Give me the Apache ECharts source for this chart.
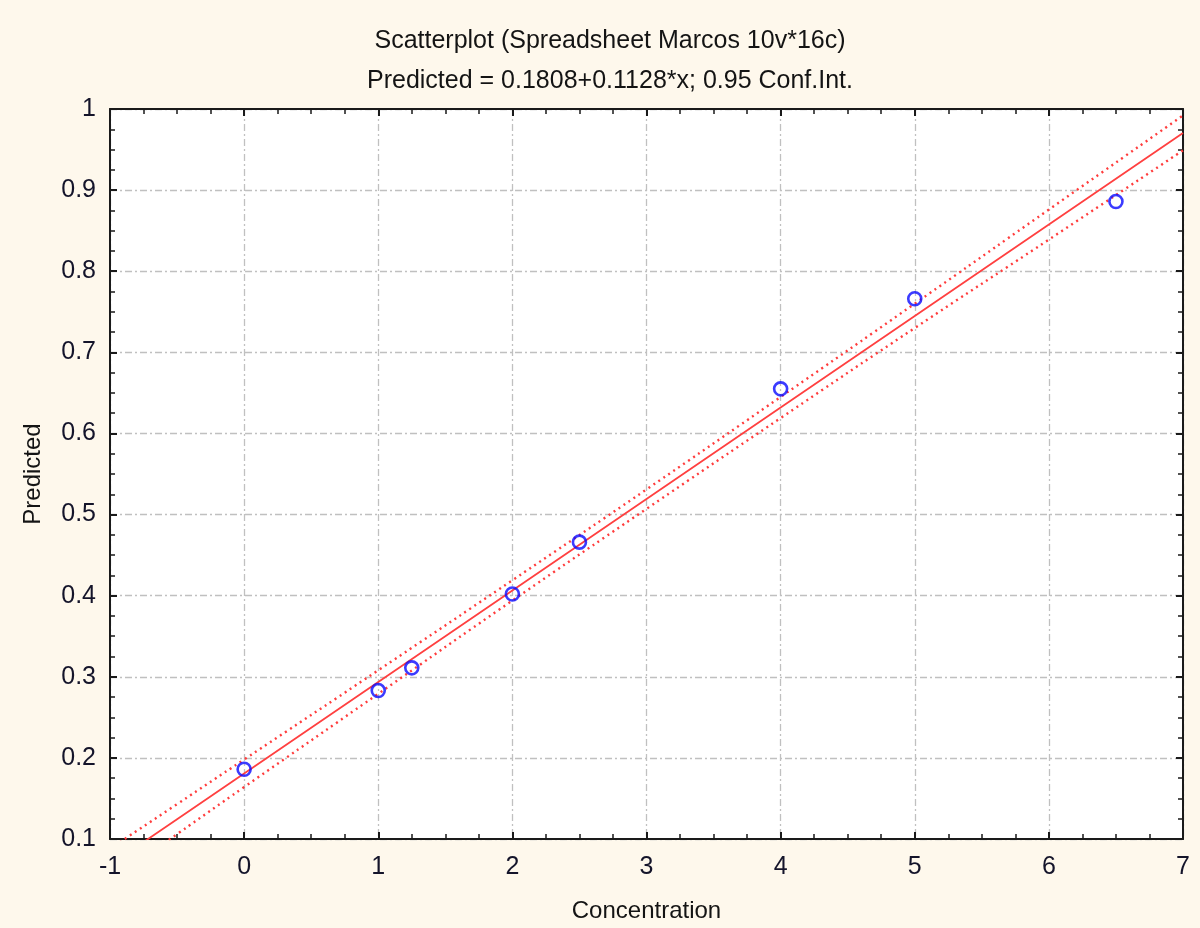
<!DOCTYPE html>
<html>
<head>
    <meta charset="utf-8"/>
    <title>Scatterplot</title>
    <script src="https://cdn.jsdelivr.net/npm/echarts@6/dist/echarts.min.js"></script>
    <style>
        html, body { margin: 0; padding: 0; background: #fef8ec; }
    </style>
</head>
<body>
<div id="main" style="width: 1200px;height:928px;"></div>
<script type="text/javascript">
    // observed points
    var concX = [0, 1, 1.25, 2, 2.5, 4, 5, 6.5];
    var predY = [0.186, 0.283, 0.311, 0.402, 0.466, 0.655, 0.766, 0.886];

    // fitted line and 0.95 conf. band, read at these x
    var bandX = [-1, -0.5, 0, 1, 2, 3, 4, 5, 6, 7];
    var fitY = [0.068, 0.1244, 0.1808, 0.2936, 0.4064, 0.5192, 0.632, 0.7448, 0.8576, 0.9704];
    var upperY = [0.088, 0.143, 0.198, 0.308, 0.419, 0.531, 0.645, 0.760, 0.876, 0.992];
    var lowerY = [0.048, 0.106, 0.164, 0.279, 0.394, 0.507, 0.619, 0.730, 0.839, 0.949];

    var titleLines = ['Scatterplot (Spreadsheet Marcos 10v*16c)', 'Predicted = 0.1808+0.1128*x; 0.95 Conf.Int.'];

    function pairs(xs, ys) {
        return xs.map(function (x, i) { return [x, ys[i]]; });
    }

    var font = '"Liberation Sans", Arial, sans-serif';
    var gridDash = { color: '#c0c0c0', width: 1.3, type: [7, 3, 2, 3] };

    var myChart = echarts.init(document.getElementById('main'));

    var frameAxis = {
        axisLine: { show: true, onZero: false, lineStyle: { color: '#1a1a1a', width: 2 } },
        axisTick: { show: true, inside: true, length: 7, lineStyle: { color: '#1a1a1a', width: 2 } },
        minorTick: { show: true, splitNumber: 4, length: 5, lineStyle: { color: '#1a1a1a', width: 1.5 } }
    };

    var option = {
        backgroundColor: '#fef8ec',
        animation: false,
        title: {
            text: titleLines.join('\n'),
            left: 605,
            textAlign: 'center',
            top: 16,
            textStyle: { fontFamily: font, fontSize: 25, fontWeight: 'normal', color: '#141414', lineHeight: 40 }
        },
        grid: { left: 110, right: 17, top: 109, bottom: 86, show: true, backgroundColor: '#ffffff', borderWidth: 0 },
        xAxis: [
            Object.assign({
                type: 'value', min: -1, max: 7, interval: 1,
                name: 'Concentration', nameLocation: 'middle', nameGap: 60,
                nameTextStyle: { fontFamily: font, fontSize: 24, color: '#141414' },
                axisLabel: { fontFamily: font, fontSize: 25, color: '#14142a', margin: 16 },
                splitLine: { show: true, lineStyle: gridDash }
            }, frameAxis),
            Object.assign({
                type: 'value', min: -1, max: 7, interval: 1, position: 'top',
                axisLabel: { show: false }, splitLine: { show: false }
            }, frameAxis)
        ],
        yAxis: [
            Object.assign({
                type: 'value', min: 0.1, max: 1, interval: 0.1,
                name: 'Predicted', nameLocation: 'middle', nameGap: 65,
                nameTextStyle: { fontFamily: font, fontSize: 24, color: '#141414' },
                axisLabel: {
                    fontFamily: font, fontSize: 25, color: '#14142a', margin: 14,
                    formatter: function (v) { return String(parseFloat(v.toFixed(2))); }
                },
                splitLine: { show: true, lineStyle: gridDash }
            }, frameAxis),
            Object.assign({
                type: 'value', min: 0.1, max: 1, interval: 0.1, position: 'right',
                axisLabel: { show: false }, splitLine: { show: false }
            }, frameAxis)
        ],
        series: [
            {
                type: 'line', data: pairs(bandX, upperY), smooth: true, showSymbol: false, clip: true,
                lineStyle: { color: '#ff3c3c', width: 2.4, type: [2, 4] }, z: 3
            },
            {
                type: 'line', data: pairs(bandX, lowerY), smooth: true, showSymbol: false, clip: true,
                lineStyle: { color: '#ff3c3c', width: 2.4, type: [2, 4] }, z: 3
            },
            {
                type: 'line', data: pairs(bandX, fitY), showSymbol: false, clip: true,
                lineStyle: { color: '#ff4040', width: 1.8 }, z: 3
            },
            {
                type: 'scatter', data: pairs(concX, predY), symbol: 'circle', symbolSize: 13,
                itemStyle: { color: 'rgba(0,0,0,0)', borderColor: '#0a0aff', borderWidth: 2.6 }, z: 4
            }
        ]
    };

    myChart.setOption(option);
</script>
</body>
</html>
